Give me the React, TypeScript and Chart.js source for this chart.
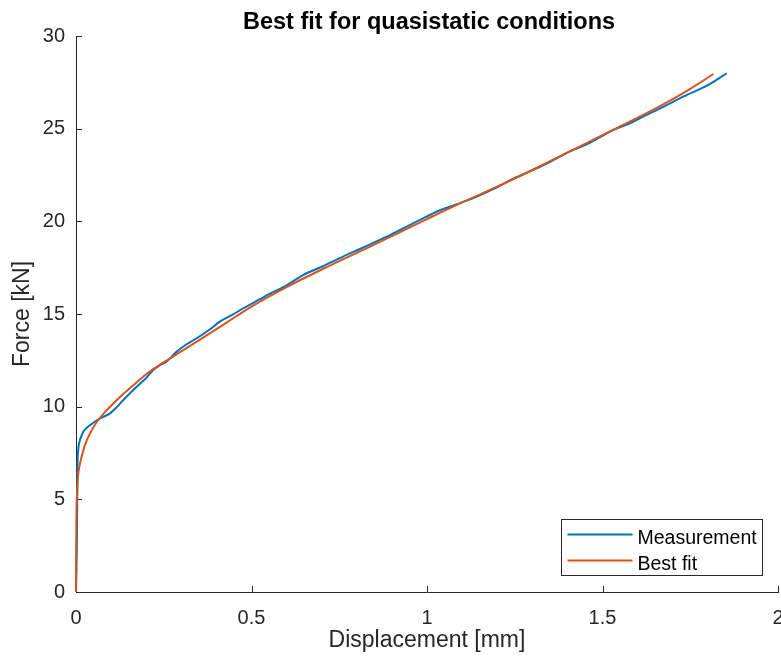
import React, { useEffect, useRef } from "react";
import { Chart, registerables } from "chart.js";

Chart.register(...registerables);

const titleText = "Best fit for quasistatic conditions";
const xAxisTitle = "Displacement [mm]";
const yAxisTitle = "Force [kN]";
const seriesNames = ["Measurement", "Best fit"];
const seriesColors = ["#0072BD", "#D95319"];

const measX = [0, 0.002, 0.003, 0.004, 0.006, 0.01, 0.015, 0.021, 0.03, 0.04, 0.064, 0.097, 0.115, 0.135, 0.155, 0.173, 0.2, 0.22, 0.24, 0.258, 0.287, 0.31, 0.344, 0.38, 0.41, 0.445, 0.477, 0.524, 0.553, 0.6, 0.648, 0.7, 0.761, 0.82, 0.885, 0.93, 0.97, 1.037, 1.09, 1.142, 1.19, 1.246, 1.3, 1.35, 1.407, 1.46, 1.531, 1.58, 1.616, 1.67, 1.73, 1.8, 1.854];
const measY = [0, 2.0, 3.5, 6.5, 7.6, 8.1, 8.4, 8.65, 8.85, 9.0, 9.32, 9.64, 9.95, 10.36, 10.75, 11.08, 11.55, 11.98, 12.25, 12.43, 12.97, 13.3, 13.69, 14.15, 14.59, 14.95, 15.31, 15.8, 16.1, 16.55, 17.11, 17.55, 18.1, 18.6, 19.17, 19.6, 19.98, 20.6, 20.95, 21.33, 21.75, 22.3, 22.75, 23.2, 23.77, 24.2, 24.93, 25.3, 25.65, 26.15, 26.73, 27.35, 27.99];

const fitX = [0, 0.001, 0.003, 0.006, 0.01, 0.016, 0.025, 0.04, 0.06, 0.08, 0.1, 0.13, 0.16, 0.2, 0.25, 0.3, 0.36, 0.43, 0.5, 0.6, 0.7, 0.8, 0.9, 1.0, 1.1, 1.2, 1.3, 1.4, 1.5, 1.6, 1.7, 1.75, 1.816];
const fitY = [0, 3.8, 5.3, 6.3, 6.8, 7.3, 7.9, 8.56, 9.2, 9.65, 10.05, 10.6, 11.1, 11.75, 12.4, 12.98, 13.7, 14.55, 15.4, 16.45, 17.4, 18.3, 19.2, 20.12, 21.02, 21.87, 22.77, 23.71, 24.65, 25.59, 26.6, 27.15, 27.95];

const xMin = 0, xMax = 2, xStep = 0.5;
const yMin = 0, yMax = 30, yStep = 5;

const AXIS = "#262626";
const FONT = "'Liberation Sans', Arial, Helvetica, sans-serif";

const decorPlugin = {
  id: "decor",
  beforeDatasetsDraw(chart: any) {
    const { ctx, chartArea, scales } = chart;
    ctx.save();
    ctx.strokeStyle = AXIS;
    ctx.lineWidth = 1;
    const tl = 6;
    scales.x.ticks.forEach((t: any) => {
      const px = Math.round(scales.x.getPixelForValue(t.value)) + 0.5;
      ctx.beginPath();
      ctx.moveTo(px, chartArea.bottom);
      ctx.lineTo(px, chartArea.bottom - tl);
      ctx.stroke();
    });
    scales.y.ticks.forEach((t: any) => {
      const py = Math.round(scales.y.getPixelForValue(t.value)) + 0.5;
      ctx.beginPath();
      ctx.moveTo(chartArea.left, py);
      ctx.lineTo(chartArea.left + tl, py);
      ctx.stroke();
    });
    ctx.restore();
  },
  afterDraw(chart: any) {
    const { ctx, chartArea } = chart;
    ctx.save();
    ctx.fillStyle = "#000";
    ctx.font = `bold 23.5px ${FONT}`;
    ctx.textAlign = "center";
    ctx.textBaseline = "alphabetic";
    ctx.fillText(titleText, (chartArea.left + chartArea.right) / 2 + 2, 29);
    const w = 201, h = 56;
    const bx = Math.round(chartArea.right - 16 - w) + 0.5;
    const by = Math.round(chartArea.bottom - 17 - h) + 0.5;
    ctx.fillStyle = "#fff";
    ctx.fillRect(bx, by, w, h);
    ctx.strokeStyle = AXIS;
    ctx.lineWidth = 1;
    ctx.strokeRect(bx, by, w, h);
    ctx.font = `19.5px ${FONT}`;
    ctx.textAlign = "left";
    seriesNames.forEach((name, i) => {
      const ly = by + 15 + i * 26;
      ctx.strokeStyle = seriesColors[i];
      ctx.lineWidth = 2;
      ctx.beginPath();
      ctx.moveTo(bx + 6, ly);
      ctx.lineTo(bx + 71, ly);
      ctx.stroke();
      ctx.fillStyle = "#000";
      ctx.fillText(name, bx + 76, ly + 9.5);
    });
    ctx.restore();
  },
};

export default function App() {
  const ref = useRef<HTMLCanvasElement>(null);
  useEffect(() => {
    if (!ref.current) return;
    const mk = (xs: number[], ys: number[]) => xs.map((x, i) => ({ x, y: ys[i] }));
    const chart = new Chart(ref.current, {
      type: "line",
      data: {
        datasets: [
          {
            label: seriesNames[0],
            data: mk(measX, measY),
            borderColor: seriesColors[0],
            borderWidth: 2,
            pointRadius: 0,
            cubicInterpolationMode: "monotone",
            fill: false,
            clip: false as any,
            order: 2,
          },
          {
            label: seriesNames[1],
            data: mk(fitX, fitY),
            borderColor: seriesColors[1],
            borderWidth: 2,
            pointRadius: 0,
            cubicInterpolationMode: "monotone",
            fill: false,
            clip: false as any,
            order: 1,
          },
        ],
      },
      options: {
        animation: false,
        responsive: true,
        maintainAspectRatio: false,
        layout: { padding: { top: 36, right: 3, left: 0, bottom: 0 } },
        plugins: { legend: { display: false }, tooltip: { enabled: false }, title: { display: false } },
        scales: {
          x: {
            type: "linear",
            min: xMin,
            max: xMax,
            ticks: {
              stepSize: xStep,
              color: AXIS,
              font: { family: FONT, size: 20 },
              padding: 14,
              maxRotation: 0,
              callback: (v: any) => String(Number(v)),
            },
            grid: { display: false, drawTicks: false },
            border: { display: true, color: AXIS, width: 1 },
            title: { display: true, text: xAxisTitle, color: AXIS, font: { family: FONT, size: 23 }, padding: { top: 0, bottom: 10 } },
            afterFit(scale: any) {
              scale.height = 72;
              scale.paddingLeft = 0;
              scale.paddingRight = 0;
            },
          },
          y: {
            type: "linear",
            min: yMin,
            max: yMax,
            ticks: {
              stepSize: yStep,
              color: AXIS,
              font: { family: FONT, size: 20 },
              padding: 11,
              callback: (v: any) => String(Number(v)),
            },
            grid: { display: false, drawTicks: false },
            border: { display: true, color: AXIS, width: 1 },
            title: { display: true, text: yAxisTitle, color: AXIS, font: { family: FONT, size: 23 }, padding: { top: 9, bottom: 0 } },
            afterFit(scale: any) {
              scale.width = 76;
              scale.paddingTop = 0;
              scale.paddingBottom = 0;
            },
          },
        },
      },
      plugins: [decorPlugin],
    });
    return () => chart.destroy();
  }, []);
  return (
    <div style={{ position: "fixed", left: 0, top: 0, width: 781, height: 664, background: "#fff" }}>
      <canvas ref={ref} />
    </div>
  );
}
